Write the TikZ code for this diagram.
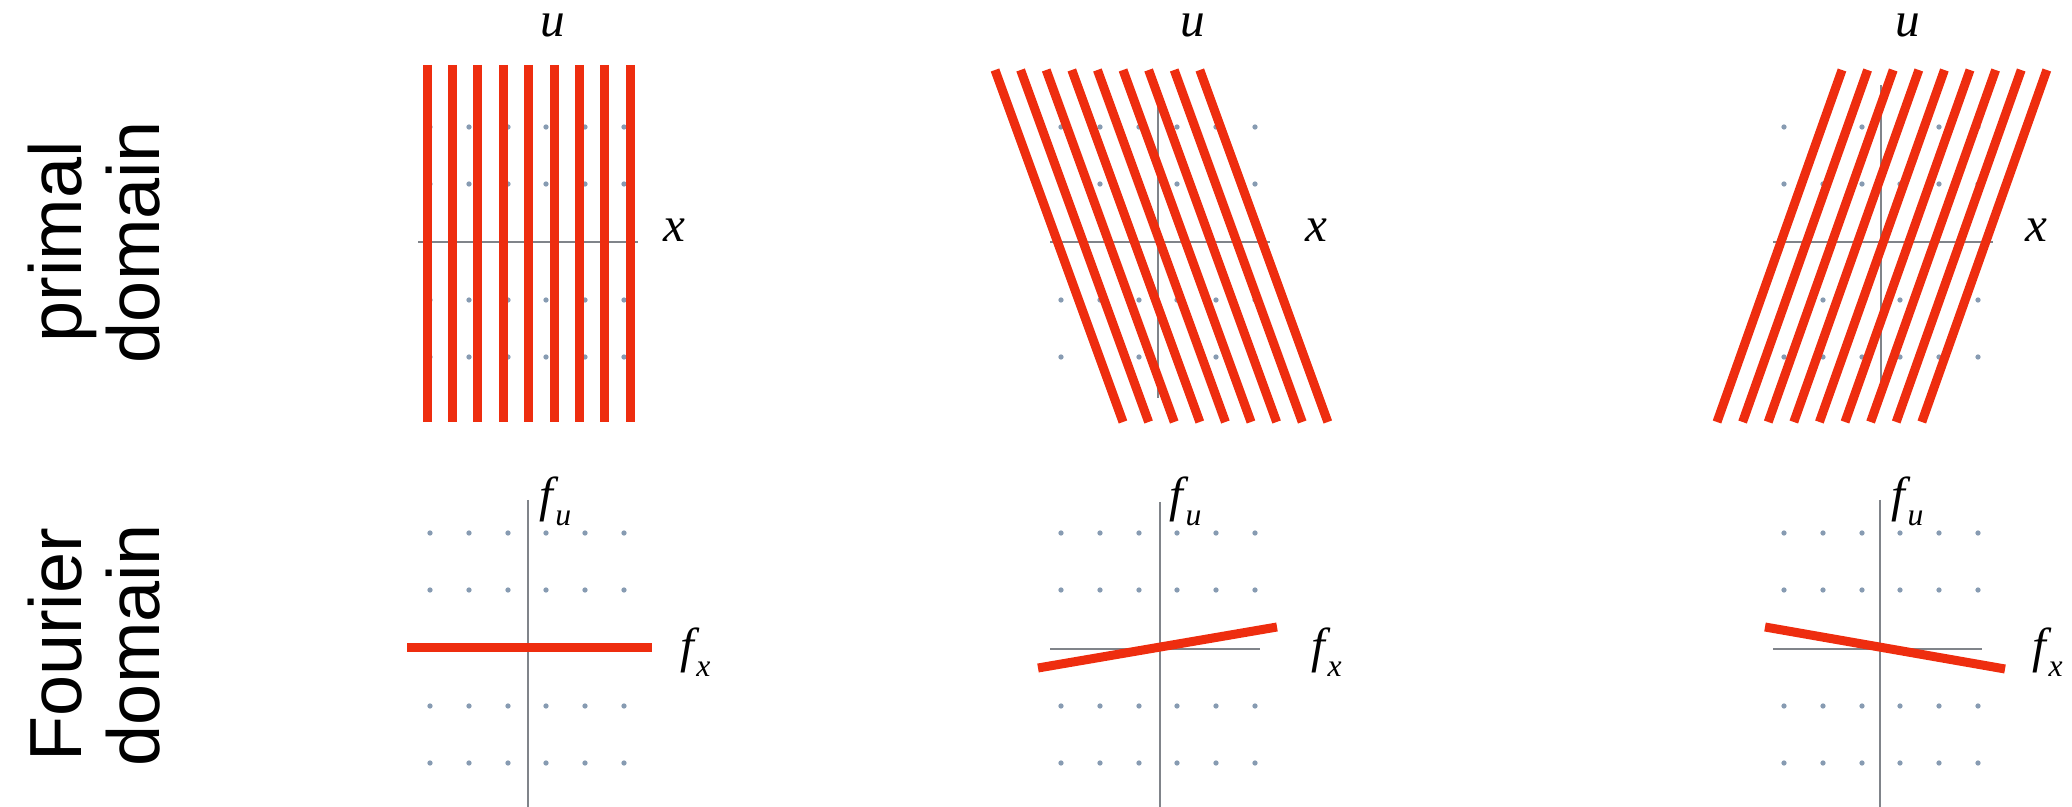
\documentclass[tikz,border=0pt]{standalone}
\usepackage{fontspec}
\usepackage{xcolor}
\definecolor{rouge}{RGB}{238, 45, 15}
\definecolor{axe}{RGB}{128, 132, 138}
\definecolor{point}{RGB}{135, 155, 178}
\newfontfamily\labfont{Liberation Sans}
\newfontfamily\varfont{Liberation Serif}
\newcommand{\vlab}[1]{{\varfont\itshape #1}}
\newcommand{\fsub}[1]{{\varfont\itshape f\kern0.6pt\raisebox{-0.27em}{\fontsize{9}{9}\selectfont #1}}}

\begin{document}
\begin{tikzpicture}[
  x=0.01cm, y=-0.01cm,
  redline/.style={line width=0.09cm, color=rouge},
  axisline/.style={line width=0.6pt, color=axe},
  gridpt/.style={fill=point},
  side/.style={font=\labfont\fontsize{21}{22}\selectfont, align=center, inner sep=0pt, rotate=90},
  var/.style={font=\fontsize{14}{14}\selectfont, inner sep=0pt, anchor=base west}
]
\useasboundingbox (0,0) rectangle (2072,807);
% Row labels
\node[side] (primal) at (94,242) {primal\\domain};
\node[side] (fourier) at (94,645) {Fourier\\domain};
% Grid points
\foreach \c in {527,1158,1881}
  \foreach \dx in {-97,-58,-19,19,58,97}
    \foreach \dy in {-115,-58,58,115} {
      \fill[gridpt] ({\c+\dx},{242+\dy}) circle[radius=0.75pt];
      \fill[gridpt] ({\c+\dx},{648+\dy}) circle[radius=0.75pt];
    }
% Axes, primal row
\draw[axisline] (418,242) -- (638,242);
\draw[axisline] (527,85) -- (527,398);
\draw[axisline] (1050,242) -- (1270,242);
\draw[axisline] (1158,85) -- (1158,398);
\draw[axisline] (1773,242) -- (1993,242);
\draw[axisline] (1881,85) -- (1881,398);
% Axes, Fourier row
\draw[axisline] (418,648) -- (638,648);
\draw[axisline] (528,500) -- (528,807);
\draw[axisline] (1050,649) -- (1260,649);
\draw[axisline] (1160,502) -- (1160,807);
\draw[axisline] (1773,649) -- (1982,649);
\draw[axisline] (1880,500) -- (1880,807);
% Primal lines
\foreach \k in {0,...,8} {
  \draw[redline] ({427+25.4*\k},65) -- ({427+25.4*\k},422);
  \draw[redline] ({995+25.6*\k},70) -- ({1123+25.6*\k},422);
  \draw[redline] ({1842+25.6*\k},70) -- ({1717+25.6*\k},422);
}
% Fourier lines
\draw[redline] (407,648) -- (652,648);
\draw[redline] (1038,668) -- (1277,627);
\draw[redline] (1765,627) -- (2005,669);
% Axis labels
\node[var] (u1) at (540,37) {\vlab{u}};
\node[var] (u2) at (1180,37) {\vlab{u}};
\node[var] (u3) at (1895,37) {\vlab{u}};
\node[var] (x1) at (663,242) {\vlab{x}};
\node[var] (x2) at (1305,242) {\vlab{x}};
\node[var] (x3) at (2025,242) {\vlab{x}};
\node[var] (fu1) at (539,512) {\fsub{u}};
\node[var] (fu2) at (1169,512) {\fsub{u}};
\node[var] (fu3) at (1891,512) {\fsub{u}};
\node[var] (fx1) at (680,663) {\fsub{x}};
\node[var] (fx2) at (1311,663) {\fsub{x}};
\node[var] (fx3) at (2032,663) {\fsub{x}};
\end{tikzpicture}
\end{document}
